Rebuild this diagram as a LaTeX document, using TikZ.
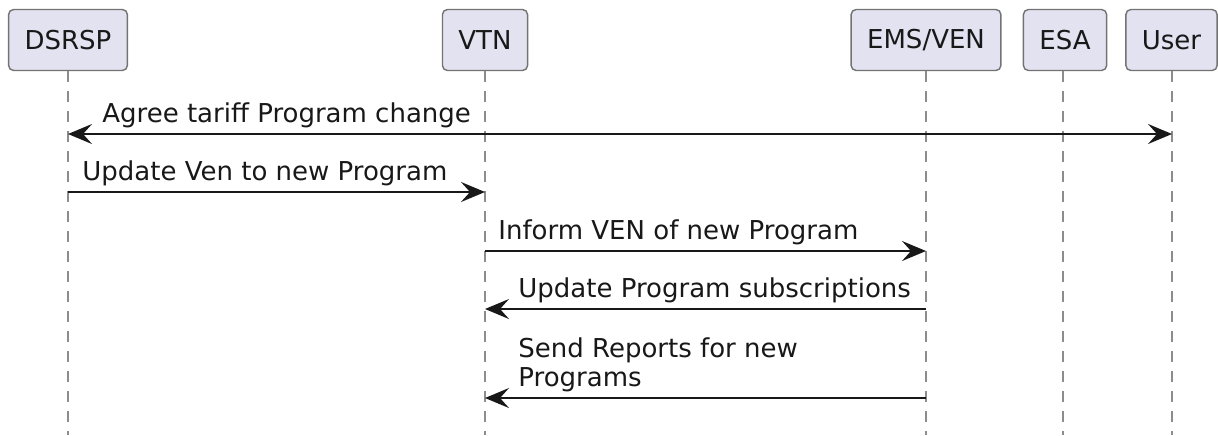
\documentclass[tikz,border=0pt]{standalone}
\usepackage{fontspec}
\setmainfont{DejaVu Sans}
\usepackage{xcolor}
\usepackage{tikz}
\usetikzlibrary{arrows.meta,positioning,calc}

\definecolor{partfill}{HTML}{E2E2F0}
\definecolor{inkdark}{HTML}{181818}

\begin{document}
\begin{tikzpicture}[
    x=0.5pt, y=-0.5pt,
    part/.style={rectangle, rounded corners=2.5pt, draw=black!55, fill=partfill, line width=0.7pt, minimum height=30.5pt, inner xsep=8pt, font=\fontsize{13}{15}\selectfont, text=inkdark},
    life/.style={draw=black!45, line width=0.6pt, dash pattern=on 5.5pt off 4.5pt},
    msg/.style={line width=0.9pt, inkdark, -{Stealth[length=12pt, width=10pt, inset=4.5pt]}},
    lbl/.style={anchor=base west, inner sep=0pt, font=\fontsize{13}{14.5}\selectfont, text=inkdark, align=left},
]
\useasboundingbox (0,0) rectangle (1218,435);

% Participants
\node[part] (dsrsp) at (68,40) {DSRSP};
\node[part] (vtn) at (485,40) {VTN};
\node[part] (emsven) at (926,40) {EMS/VEN};
\node[part] (esa) at (1065,40) {ESA};
\node[part] (user) at (1171.5,40) {User};

% Lifelines
\foreach \p/\x in {dsrsp/68, vtn/485, emsven/926, esa/1063, user/1172} {
    \coordinate (\p-end) at (\x,435);
    \draw[life] (\p-end |- \p.south) -- (\p-end);
}

% Message rows
\coordinate (m1) at (0,134);
\coordinate (m2) at (0,192);
\coordinate (m3) at (0,251);
\coordinate (m4) at (0,309);
\coordinate (m5) at (0,398);

% Messages
\draw[msg, {Stealth[length=12pt, width=10pt, inset=4.5pt]}-{Stealth[length=12pt, width=10pt, inset=4.5pt]}] (dsrsp-end |- m1) -- (user-end |- m1);
\node[lbl] (l1) at ([shift={(34,-12)}]dsrsp-end |- m1) {Agree tariff Program change};

\draw[msg] (dsrsp-end |- m2) -- (vtn-end |- m2);
\node[lbl] (l2) at ([shift={(14,-12)}]dsrsp-end |- m2) {Update Ven to new Program};

\draw[msg] (vtn-end |- m3) -- (emsven-end |- m3);
\node[lbl] (l3) at ([shift={(13,-12)}]vtn-end |- m3) {Inform VEN of new Program};

\draw[msg] (emsven-end |- m4) -- (vtn-end |- m4);
\node[lbl] (l4) at ([shift={(33,-12)}]vtn-end |- m4) {Update Program subscriptions};

\draw[msg] (emsven-end |- m5) -- (vtn-end |- m5);
\node[lbl] (l5) at ([shift={(33,-12)}]vtn-end |- m5) {Send Reports for new\\Programs};

\end{tikzpicture}
\end{document}
